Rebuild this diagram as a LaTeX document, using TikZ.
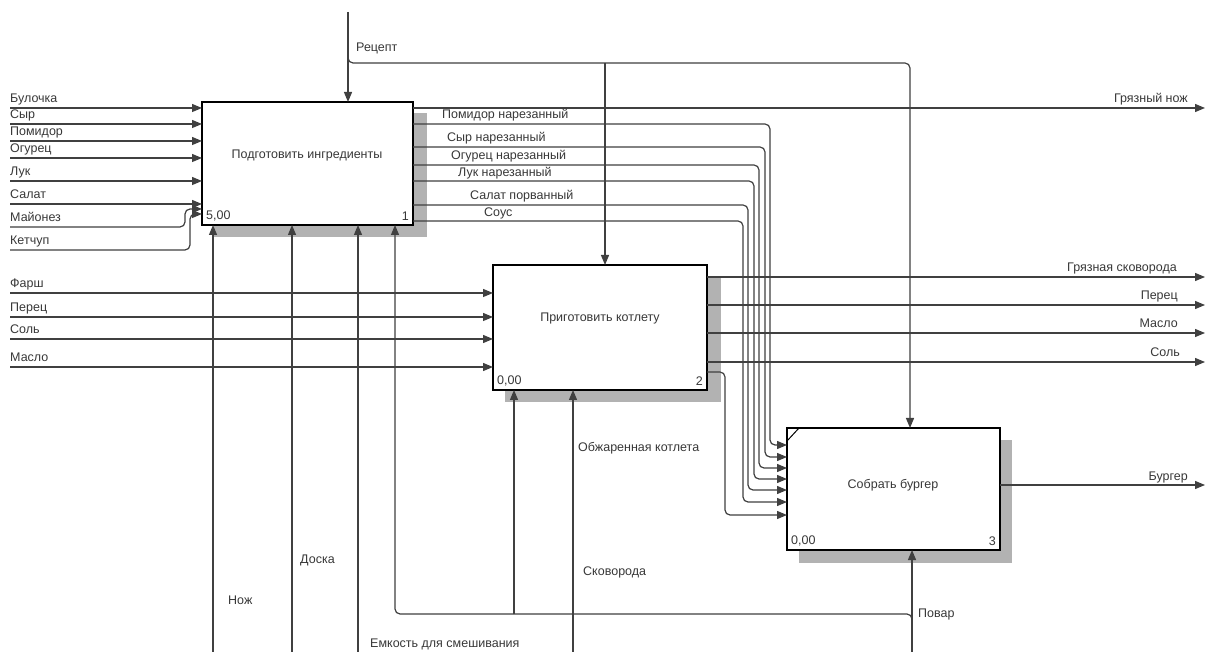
\documentclass[tikz,border=0pt]{standalone}
\usepackage{fontspec}
\setmainfont{Liberation Sans}
\usetikzlibrary{arrows.meta}
\newcommand{\lblfont}{\fontsize{12.5}{14}\selectfont}
\begin{document}
\begin{tikzpicture}[x=1pt,y=-1pt,
  ln/.style={draw=black!75,line width=1.2pt,rounded corners=5pt},
  flow/.style={ln,-{Triangle[length=10pt,width=8pt]}},
  procbox/.style={draw=black,line width=2pt,fill=white,inner sep=0pt,outer sep=0pt},
  lab/.style={font=\lblfont,text=black!78,inner sep=0pt},
  shad/.style={fill=black!30}]
\useasboundingbox[fill=white] (0,0) rectangle (1211,652);
% shadows
\fill[shad] (214,113) rectangle (427,237);
\fill[shad] (505,277) rectangle (721,402);
\fill[shad] (799,440) rectangle (1012,563);
% boxes
\node[procbox,minimum width=211pt,minimum height=123pt] (b1) at (307.5,163.5) {};
\node[procbox,minimum width=214pt,minimum height=125pt] (b2) at (600,327.5) {};
\node[procbox,minimum width=213pt,minimum height=122pt] (b3) at (893.5,489) {};
\node[lab] (t1) at (307,155) {Подготовить ингредиенты};
\node[lab] (t2) at (600,318) {Приготовить котлету};
\node[lab] (t3) at (893,485) {Собрать бургер};
\node[lab,anchor=south west] (c1a) at (206,221) {5,00};
\node[lab,anchor=south east] (c1b) at (409,221) {1};
\node[lab,anchor=south west] (c2a) at (497,386) {0,00};
\node[lab,anchor=south east] (c2b) at (703,386) {2};
\node[lab,anchor=south west] (c3a) at (791,546) {0,00};
\node[lab,anchor=south east] (c3b) at (996,546) {3};
\coordinate (k1) at (787,441);
\coordinate (k2) at (799,428);
\draw[line width=1pt] (k1) -- (k2);
% inputs box 1
\foreach \n/\y/\t in {bul/108/Булочка,syr/124/Сыр,pom/141/Помидор,ogu/158/Огурец,luk/181/Лук,sal/204/Салат}{
  \coordinate (\n) at (10,\y);
  \draw[flow] (\n) -- (\n -| b1.west);
  \node[lab,anchor=base west] (l\n) at (10,\y-5) {\t};
}
\coordinate (may) at (10,227);
\coordinate (mayA) at (185,209);
\draw[flow] (may) -| (mayA) -- (mayA -| b1.west);
\node[lab,anchor=base west] (lmay) at (10,222) {Майонез};
\coordinate (ket) at (10,250);
\coordinate (ketA) at (190,214);
\draw[flow] (ket) -| (ketA) -- (ketA -| b1.west);
\node[lab,anchor=base west] (lket) at (10,245) {Кетчуп};
% inputs box 2
\foreach \n/\y/\t in {far/293/Фарш,per/317/Перец,sol/339/Соль,mas/367/Масло}{
  \coordinate (\n) at (10,\y);
  \draw[flow] (\n) -- (\n -| b2.west);
  \node[lab,anchor=base west] (l\n) at (10,\y-5) {\t};
}
% outputs box 1 to right edge
\coordinate (onoz) at (1205,108);
\draw[flow] (onoz -| b1.east) -- (onoz);
\node[lab,anchor=base east] (lonoz) at (1188,103) {Грязный нож};
% outputs box 1 to box 3
\foreach \n/\y/\x/\ay/\t/\lx/\ly in {
  opom/124/770/445/Помидор нарезанный/442/119,
  osyr/147/765/457/Сыр нарезанный/447/142,
  oogu/165/759/468/Огурец нарезанный/451/160,
  oluk/181/754/479/Лук нарезанный/458/177,
  osal/205/748/490/Салат порванный/470/200,
  osou/221/743/502/Соус/484/217}{
  \coordinate (\n s) at (413,\y);
  \coordinate (\n c) at (\x,\ay);
  \draw[flow] (\n s) -| (\n c) -- (\n c -| b3.west);
  \node[lab,anchor=base west] (l\n) at (\lx,\ly) {\t};
}
% box 2 to box 3
\coordinate (kots) at (707,372);
\coordinate (kotc) at (725,515);
\draw[flow] (kots) -| (kotc) -- (kotc -| b3.west);
\node[lab,anchor=west] (lkot) at (578,448) {Обжаренная котлета};
% outputs box 2
\foreach \n/\y/\t/\ex in {ogs/277/Грязная сковорода/1177,oper/305/Перец/1178,omas/333/Масло/1178,osol/362/Соль/1180}{
  \coordinate (\n) at (1205,\y);
  \draw[flow] (\n -| b2.east) -- (\n);
  \node[lab,anchor=base east] (l\n) at (\ex,\y-5) {\t};
}
% output box 3
\coordinate (obur) at (1205,485);
\draw[flow] (obur -| b3.east) -- (obur);
\node[lab,anchor=base east] (lobur) at (1188,480) {Бургер};
% control
\coordinate (rec) at (348,12);
\coordinate (recb) at (348,55);
\coordinate (rech) at (605,63);
\coordinate (rech3) at (910,63);
\draw[flow] (rec) -- (rec |- b1.north);
\draw[flow] (recb) |- (rech3) -- (rech3 |- b3.north);
\draw[flow] (rech) -- (rech |- b2.north);
\node[lab,anchor=west] (lrec) at (356,48) {Рецепт};
% mechanisms
\foreach \n/\x in {noz/213,dos/292,emk/358}{
  \coordinate (\n) at (\x,652);
  \draw[flow] (\n) -- (\n |- b1.south);
}
\node[lab,anchor=west] (lnoz) at (228,600) {Нож};
\node[lab,anchor=west] (ldos) at (300,560) {Доска};
\node[lab,anchor=west] (lemk) at (370,644) {Емкость для смешивания};
\coordinate (skov) at (573,652);
\draw[flow] (skov) -- (skov |- b2.south);
\node[lab,anchor=west] (lskov) at (583,572) {Сковорода};
\coordinate (pov) at (912,652);
\coordinate (povb) at (912,622);
\coordinate (povL) at (395,614);
\coordinate (pov2) at (514,614);
\draw[flow] (pov) -- (pov |- b3.south);
\draw[flow] (povb) |- (povL) -- (povL |- b1.south);
\draw[flow] (pov2) -- (pov2 |- b2.south);
\node[lab,anchor=west] (lpov) at (918,614) {Повар};
\end{tikzpicture}
\end{document}
